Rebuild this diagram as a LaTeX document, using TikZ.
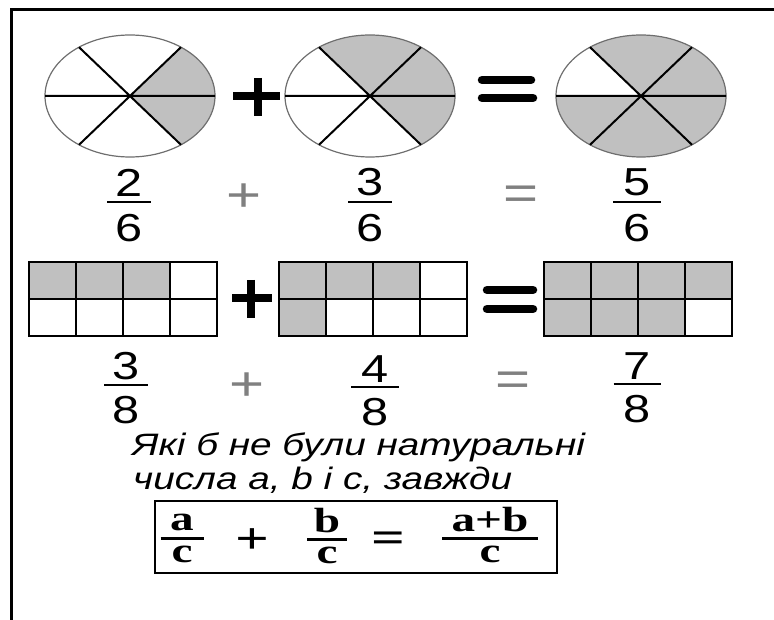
\documentclass[tikz,border=0pt]{standalone}
\usepackage{fontspec}
\setmainfont{Liberation Serif}
\setsansfont[FakeStretch=1.25]{Liberation Sans}
\newfontfamily\formulafont[FakeStretch=1.35]{Liberation Serif}
\usepackage{tikz}
\usetikzlibrary{calc}
\definecolor{PartGray}{HTML}{C0C0C0}
\definecolor{RimGray}{HTML}{6E6E6E}
\definecolor{SignGray}{HTML}{808080}
% numerator over a bar over a denominator
\newcommand{\fracstack}[6]{%
  \vbox{\offinterlineskip\halign{\hfil##\hfil\cr
    #5\cr\noalign{\kern#3}\rule{#1}{#2}\cr\noalign{\kern#4}#6\cr}}}

\begin{document}
\begin{tikzpicture}[x=1pt, y=-1pt,
  rim/.style={RimGray, line width=1.2},
  spoke/.style={black, line width=2},
  cellline/.style={black, line width=2.4},
  bigsign/.style={black, line width=8.5},
  digits/.style={font=\sffamily\fontsize{39}{39}\selectfont, inner sep=0, anchor=base},
  smallsign/.style={SignGray, font=\sffamily\fontsize{48}{48}\selectfont, inner sep=0},
  formula/.style={font=\formulafont\bfseries\fontsize{35}{35}\selectfont, inner sep=0},
  formulasign/.style={font=\formulafont\bfseries\fontsize{44}{44}\selectfont, inner sep=0}]
\useasboundingbox (0,0) rectangle (774,620);
% Frame
\draw[line width=3] (11,650) |- (800,10);
% Circles cut into sixths
\foreach \name/\cx/\from/\to in {e1/130/-53.13/53.13, e2/370/233.13/413.13, e3/641/233.13/540} {
  \coordinate (\name) at (\cx,96);
  \fill[PartGray] (\name) -- +(\from:85 and 61) arc[start angle=\from, end angle=\to, x radius=85, y radius=61] -- cycle;
  \draw[rim] (\name) ellipse[x radius=85, y radius=61];
  \draw[spoke] (\name) +(180:85 and 61) -- +(0:85 and 61)
    (\name) +(53.13:85 and 61) -- +(233.13:85 and 61)
    (\name) +(126.87:85 and 61) -- +(306.87:85 and 61);
}
\draw[bigsign] (233,96) -- (280,96) (258,78) -- (258,116);
\draw[bigsign, line cap=round] (482,80) -- (531,80) (482,98) -- (533,98);
% Fractions under the circles
\node[digits] (f1) at (129,242) {\fracstack{44pt}{1.6pt}{5pt}{12pt}{2}{6}};
\node[smallsign] (p1) at (244,198) {+};
\node[digits] (f2) at (370,242) {\fracstack{44pt}{1.6pt}{5pt}{12pt}{3}{6}};
\node[smallsign] (q1) at (521,198) {=};
\node[digits] (f3) at (637,242) {\fracstack{48pt}{1.6pt}{5pt}{12pt}{5}{6}};
% Bars cut into eighths
\foreach \name/\x in {r1/29, r2/279, r3/544}
  \coordinate (\name) at (\x,262);
\fill[PartGray] (r1) rectangle +(141,37);
\fill[PartGray] (r2) rectangle +(141,37) ($(r2)+(0,37)$) rectangle +(47,37);
\fill[PartGray] (r3) rectangle +(188,37) ($(r3)+(0,37)$) rectangle +(141,37);
\foreach \name in {r1,r2,r3} {
  \draw[cellline] (\name) rectangle +(188,74) ($(\name)+(0,37)$) -- +(188,0);
  \foreach \k in {47,94,141}
    \draw[cellline] ($(\name)+(\k,0)$) -- +(0,74);
}
\draw[bigsign] (232,298) -- (272,298) (251,280) -- (251,318);
\draw[bigsign, line cap=round] (487,290) -- (533,290) (487,309) -- (533,309);
% Fractions under the bars
\node[digits] (g1) at (126,423) {\fracstack{44pt}{1.6pt}{4pt}{10pt}{3}{8}};
\node[smallsign] (p2) at (247,387) {+};
\node[digits] (g2) at (375,425) {\fracstack{48pt}{1.6pt}{4pt}{10pt}{4}{8}};
\node[smallsign] (q2) at (513,384) {=};
\node[digits] (g3) at (637,422) {\fracstack{47pt}{1.6pt}{4pt}{10pt}{7}{8}};
% Rule in words
\node[font=\sffamily\itshape\fontsize{31}{31}\selectfont, inner sep=0, anchor=base west] (line1) at (132,455) {Які б не були натуральні};
\node[font=\sffamily\itshape\fontsize{31}{31}\selectfont, inner sep=0, anchor=base west] (line2) at (133,489) {числа a, b і c, завжди};
% Boxed rule
\draw[line width=1.5] (155,501) rectangle (557,573);
\node[formula, anchor=base] (fa) at (182,562) {\fracstack{43pt}{2.6pt}{6pt}{6pt}{a}{c}};
\node[formulasign] (pa) at (252,541) {+};
\node[formula, anchor=base] (fb) at (327,563) {\fracstack{40pt}{2.6pt}{5pt}{6pt}{b}{c}};
\node[formulasign] (qa) at (388,542) {=};
\node[formula, anchor=base] (fab) at (490,562) {\fracstack{96pt}{2.6pt}{5pt}{6pt}{a+b}{c}};
\end{tikzpicture}
\end{document}
